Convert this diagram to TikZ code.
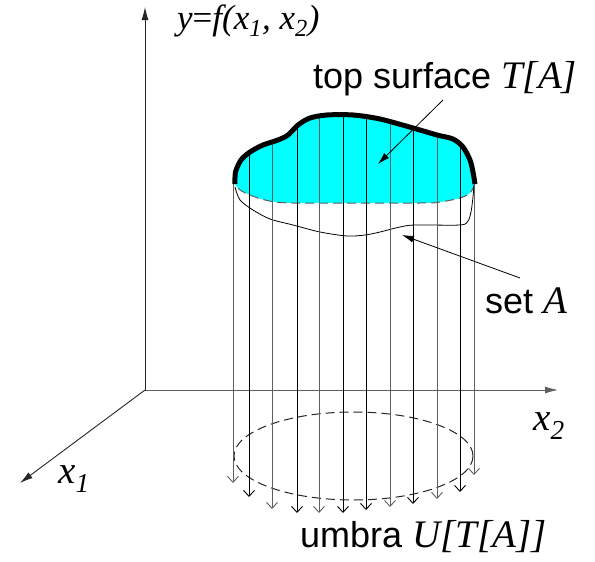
\documentclass[tikz,border=0pt]{standalone}
\usepackage{fontspec}
\setmainfont{Liberation Serif}
\newfontfamily\arialf{Liberation Sans}
\newfontfamily\timesf{Liberation Serif}
\usetikzlibrary{arrows.meta}
\definecolor{cyanfill}{RGB}{0,255,255}
\definecolor{gline}{RGB}{95,95,95}
\newcommand{\sanstxt}{\arialf\fontsize{36}{40}\selectfont}
\newcommand{\ittxt}[1]{{\timesf\itshape\fontsize{39}{42}\selectfont #1}}
\begin{document}
\begin{tikzpicture}[x=1pt,y=-1pt,
  axisline/.style={line width=0.9pt,draw=black!85,-{Latex[length=13pt,width=7pt]}},
  pointer/.style={line width=0.8pt,-{Latex[length=12pt,width=7pt]}},
  projline/.style={line width=0.9pt,-{Straight Barb[length=6pt,width=11pt,line width=0.9pt]}},
  lbl/.style={inner sep=0pt,anchor=base west}]
\useasboundingbox (0,0) rectangle (595,562);

% axes
\coordinate (O) at (145,390);
\coordinate (ytip) at (145,7);
\coordinate (x2tip) at (558,390);
\coordinate (x1tip) at (20,483);
\draw[axisline] (O) -- (ytip);
\draw[axisline,draw=gline] (O) -- (x2tip);
\draw[axisline] (O) -- (x1tip);

% cyan top surface region
\fill[cyanfill] plot[smooth] coordinates {(235,184) (235.5,172) (241,160) (250,152) (263,145) (278,140) (288,135) (298,125) (310,118) (327,115) (353,115) (380,119) (413,128) (437,135) (453,139) (463,147) (470,160) (473,172) (475,184)}
  -- plot[smooth] coordinates {(475,184) (470,193) (460,198) (440,202) (420,203) (293,203) (265,200) (250,195) (240,190) (235,184)} -- cycle;
\draw[gline,line width=1pt,dash pattern=on 9pt off 5pt] plot[smooth] coordinates {(475,184) (470,193) (460,198) (440,202) (420,203) (293,203) (265,200) (250,195) (240,190) (235,184)};

% set A outline
\draw[line width=0.8pt] plot[smooth] coordinates {(235,187) (240,200) (253,210) (270,219) (293,225) (320,232) (347,236) (365,235) (380,232) (400,227) (415,225) (460,225) (468,221) (471,212) (473,197) (474,185)};

% umbra
\draw[black!85,line width=1pt,dash pattern=on 9pt off 5pt] (353.5,456) ellipse[x radius=119.5,y radius=44];

% projection lines
\begin{scope}
\clip plot[smooth] coordinates {(235,184) (235.5,172) (241,160) (250,152) (263,145) (278,140) (288,135) (298,125) (310,118) (327,115) (353,115) (380,119) (413,128) (437,135) (453,139) (463,147) (470,160) (473,172) (475,184)} -- (490,184) -- (490,562) -- (220,562) -- (220,184) -- cycle;
\foreach \xx/\tt/\cc in {233/483/gline, 249/497/black, 272/509/gline, 297/513/black, 319/513/gline, 343/513/black, 366/510/black, 390/507/gline, 413/504/black, 437/499/gline, 460/492/black, 474/475/gline}
  \draw[projline,draw=\cc] (\xx,100) -- (\xx,\tt);
\end{scope}

% thick top curve
\draw[line width=5pt,line join=round] plot[smooth] coordinates {(235,184) (235.5,172) (241,160) (250,152) (263,145) (278,140) (288,135) (298,125) (310,118) (327,115) (353,115) (380,119) (413,128) (437,135) (453,139) (463,147) (470,160) (473,172) (475,184)};

% labels
\node[lbl] (ylab) at (177,29) {\timesf\itshape\fontsize{35}{38}\selectfont y\upshape=\itshape f(x\textsubscript{1}, x\textsubscript{2})};
\node[lbl] (x1lab) at (58,483) {\ittxt{x\textsubscript{1}}};
\node[lbl] (x2lab) at (533,430) {\ittxt{x\textsubscript{2}}};
\node[lbl] (toplab) at (313,88) {\sanstxt top surface \ittxt{T[A]}};
\node[lbl] (setlab) at (485,313) {\sanstxt set \ittxt{A}};
\node[lbl] (umblab) at (300,547) {\sanstxt umbra \ittxt{U[T[A]]}};

% pointers
\coordinate (p1s) at (443,100);
\coordinate (p1e) at (378,164);
\coordinate (p2s) at (520,278);
\coordinate (p2e) at (402,235);
\draw[pointer] (p1s) -- (p1e);
\draw[pointer] (p2s) -- (p2e);
\end{tikzpicture}
\end{document}
